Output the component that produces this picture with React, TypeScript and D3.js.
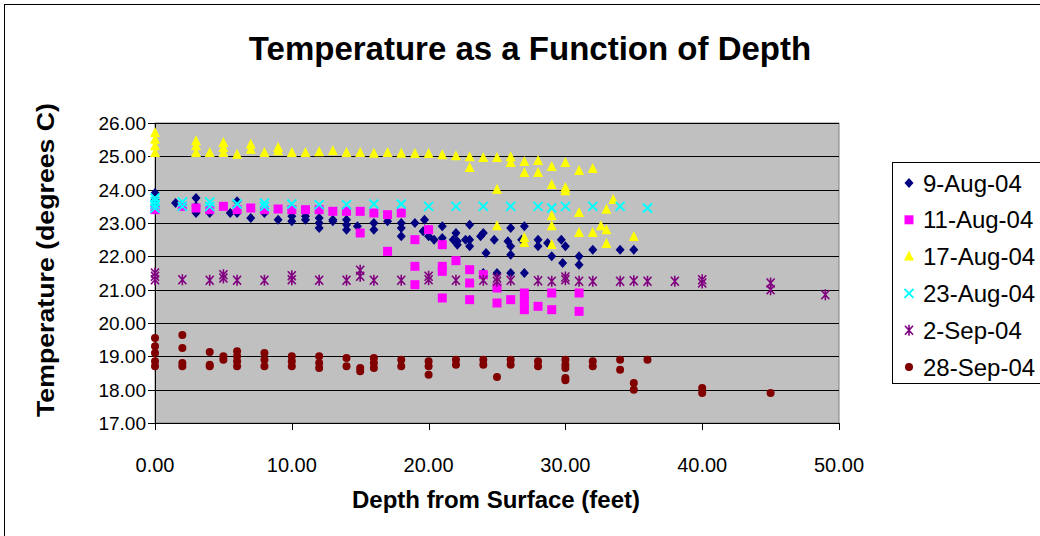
import React from "react";
import * as d3 from "d3";

const xTicks = [0, 10, 20, 30, 40, 50];
const yTicks = [17, 18, 19, 20, 21, 22, 23, 24, 25, 26];
const seriesNames = ["9-Aug-04", "11-Aug-04", "17-Aug-04", "23-Aug-04", "2-Sep-04", "28-Sep-04"];

const aug09: [number, number][] = [
  [0, 23.9], [0, 23.7], [0, 23.5], [1.5, 23.6], [3, 23.75], [3, 23.3], [3, 23.5], [4, 23.3],
  [6, 23.65], [6, 23.3], [5.5, 23.3], [7, 23.15], [8, 23.3], [9, 23.1], [10, 23.2], [10, 23.05],
  [11, 23.2], [11, 23.1], [12, 23.15], [12, 23.0], [12, 22.85], [13, 23.1], [13, 23.05],
  [14, 23.1], [14, 22.95], [14, 22.8], [14.8, 22.9], [16, 23.0], [16, 22.8], [17, 23.05],
  [18, 23.0], [18, 22.85], [18, 22.6], [19, 23.0], [19.7, 23.1], [19.6, 22.75], [20, 22.6],
  [20.4, 22.5], [21, 22.9], [21, 22.55], [21.8, 22.5], [22, 22.7], [22.1, 22.35], [22.1, 22.45],
  [22.7, 22.5], [23, 22.95], [23, 22.5], [23, 22.3], [23.8, 22.6], [24, 22.7], [24.2, 22.1],
  [24.8, 22.5], [24, 21.5], [25, 21.5], [25.8, 22.45], [26, 22.85], [26, 22.3], [26, 22.05], [26, 21.5],
  [27, 22.9], [26.8, 22.5], [27, 21.5], [28, 22.5], [28, 22.3], [28.7, 22.4], [29, 22.0],
  [29.7, 22.5], [30, 22.3], [29.8, 21.8], [31, 22.0], [31, 21.75], [32, 22.2], [34, 22.2], [35, 22.2],
];

const aug11: [number, number][] = [
  [0, 23.4], [2, 23.5], [3, 23.45], [4, 23.4], [5, 23.5], [6, 23.4], [7, 23.45], [8, 23.4],
  [9, 23.42], [10, 23.4], [11, 23.4], [12, 23.4], [13, 23.35], [14, 23.35], [15, 23.35], [15, 22.7],
  [16, 23.3], [17, 23.25], [17, 22.15], [18, 23.3], [19, 22.5], [19, 21.7], [19, 21.15], [20, 22.8],
  [21, 22.35], [21, 21.7], [21, 21.55], [21, 20.75], [22, 21.87], [23, 21.6], [23, 21.2], [23, 20.7],
  [24, 21.45], [25, 21.05], [25, 20.6], [26, 20.7], [27, 20.9], [27, 20.65], [27, 20.4], [28, 20.5],
  [29, 20.9], [29, 20.4], [31, 20.9], [31, 20.35],
];

const aug17: [number, number][] = [
  [0, 25.1], [0, 25.3], [0, 25.5], [0, 25.7], [3, 25.1], [3, 25.3], [3, 25.45], [4, 25.1],
  [5, 25.1], [5, 25.25], [5, 25.4], [6, 25.05], [7, 25.2], [7, 25.35], [8, 25.1], [9, 25.15],
  [9, 25.25], [10, 25.1], [11, 25.1], [12, 25.12], [13, 25.15], [14, 25.1], [15, 25.1], [16, 25.08],
  [17, 25.1], [18, 25.08], [19, 25.07], [20, 25.07], [21, 25.03], [22, 25.0], [23, 24.97], [23, 24.65],
  [24, 24.95], [25, 24.95], [25, 24.0], [25, 22.9], [26, 24.97], [26, 24.8], [27, 24.83], [27, 24.5],
  [27, 22.55], [27, 22.4], [28, 24.86], [28, 24.5], [29, 24.68], [29, 24.14], [29, 23.2], [29, 22.9],
  [29, 22.34], [30, 24.8], [30, 24.05], [30, 23.95], [31, 24.56], [31, 23.3], [31, 22.7], [32, 24.62],
  [32, 22.7], [32.6, 22.9], [33, 23.4], [33, 22.78], [33, 22.37], [33.5, 23.69], [35, 22.58],
];

const aug23: [number, number][] = [
  [0, 23.45], [0, 23.55], [0, 23.65], [0, 23.75], [2, 23.5], [2, 23.63], [4, 23.5], [4, 23.63],
  [6, 23.57], [8, 23.6], [8, 23.5], [10, 23.57], [12, 23.55], [14, 23.55], [16, 23.57], [18, 23.57],
  [20, 23.5], [22, 23.5], [24, 23.5], [26, 23.5], [28, 23.5], [29, 23.45], [30, 23.5], [32, 23.5],
  [34, 23.5], [36, 23.45],
];

const sep02: [number, number][] = [
  [0, 21.3], [0, 21.4], [0, 21.5], [2, 21.3], [4, 21.28], [5, 21.45], [5, 21.35], [6, 21.28],
  [8, 21.28], [10, 21.3], [10, 21.42], [12, 21.28], [14, 21.28], [15, 21.4], [15, 21.58], [16, 21.28],
  [18, 21.28], [20, 21.3], [20, 21.4], [22, 21.28], [24, 21.28], [25, 21.35], [25, 21.25], [26, 21.28],
  [28, 21.27], [29, 21.25], [30, 21.3], [30, 21.38], [31, 21.25], [32, 21.25], [34, 21.25], [35, 21.27],
  [36, 21.25], [38, 21.25], [40, 21.2], [40, 21.3], [45, 21.0], [45, 21.2], [49, 20.85],
];

const sep28: [number, number][] = [
  [0, 19.55], [0, 19.3], [0, 19.1], [0, 18.85], [0, 18.7], [2, 19.64], [2, 19.25], [2, 18.8], [2, 18.7],
  [4, 19.13], [4, 18.75], [4, 18.7], [5, 19.0], [5, 18.9], [6, 19.15], [6, 19.0], [6, 18.85], [6, 18.7],
  [8, 19.1], [8, 18.9], [8, 18.7], [10, 19.0], [10, 18.85], [10, 18.7], [12, 19.0], [12, 18.8], [12, 18.65],
  [14, 18.95], [14, 18.7], [15, 18.65], [15, 18.55], [16, 18.95], [16, 18.8], [16, 18.65], [18, 18.9],
  [18, 18.7], [20, 18.85], [20, 18.7], [20, 18.45], [22, 18.9], [22, 18.75], [24, 18.9], [24, 18.75],
  [25, 18.38], [26, 18.9], [26, 18.75], [28, 18.85], [28, 18.7], [30, 18.9], [30, 18.75], [30, 18.65],
  [30, 18.35], [30, 18.28], [32, 18.85], [32, 18.7], [34, 18.9], [34, 18.6], [35, 18.2], [35, 18.0],
  [36, 18.9], [40, 18.05], [40, 17.9], [45, 17.9],
];

const allSeries = [aug09, aug11, aug17, aug23, sep02, sep28];
const colors = ["#000080", "#FF00FF", "#FFFF00", "#00FFFF", "#800080", "#800000"];

const FONT = "'Liberation Sans', Arial, sans-serif";

function Marker({ kind, x, y }: { kind: number; x: number; y: number }) {
  const c = colors[kind];
  switch (kind) {
    case 0:
      return <path d={`M${x},${y - 5}L${x + 4.5},${y}L${x},${y + 5}L${x - 4.5},${y}Z`} fill={c} />;
    case 1:
      return <rect x={x - 4.5} y={y - 4.5} width={9} height={9} fill={c} />;
    case 2:
      return <path d={`M${x},${y - 6}L${x + 5},${y + 4}L${x - 5},${y + 4}Z`} fill={c} />;
    case 3:
      return (
        <path d={`M${x - 4.5},${y - 4.5}L${x + 4.5},${y + 4.5}M${x - 4.5},${y + 4.5}L${x + 4.5},${y - 4.5}`}
          stroke={c} strokeWidth={2} fill="none" />
      );
    case 4:
      return (
        <path d={`M${x - 4},${y - 4.5}L${x + 4},${y + 4.5}M${x - 4},${y + 4.5}L${x + 4},${y - 4.5}M${x},${y - 5.5}L${x},${y + 5.5}`}
          stroke={c} strokeWidth={1.6} fill="none" />
      );
    default:
      return <circle cx={x} cy={y} r={4} fill={c} />;
  }
}

export default function App() {
  const left = 155, right = 839, top = 123, bottom = 423;
  const x = d3.scaleLinear().domain([0, 50]).range([left, right]);
  const y = d3.scaleLinear().domain([17, 26]).range([bottom, top]);
  const fmt = d3.format(".2f");

  return (
    <svg width={1040} height={536} style={{ position: "absolute", left: 0, top: 0, background: "#fff" }}
      fontFamily={FONT}>
      <rect x={4.5} y={4.5} width={1100} height={600} fill="#fff" stroke="#000" strokeWidth={1} />
      <text x={530} y={60} textAnchor="middle" fontSize={33} fontWeight="bold">
        Temperature as a Function of Depth
      </text>

      <rect x={left} y={top} width={right - left} height={bottom - top} fill="#C0C0C0" stroke="#808080" strokeWidth={1} />
      {yTicks.map((t) => (
        <line key={"g" + t} x1={left} x2={right} y1={Math.round(y(t)) + 0.5} y2={Math.round(y(t)) + 0.5}
          stroke="#000" strokeWidth={1} />
      ))}
      <line x1={left + 0.5} x2={left + 0.5} y1={top} y2={bottom + 7} stroke="#000" />
      <line x1={left} x2={right} y1={bottom + 0.5} y2={bottom + 0.5} stroke="#000" />
      {yTicks.map((t) => (
        <g key={"yt" + t}>
          <line x1={left - 7} x2={left} y1={Math.round(y(t)) + 0.5} y2={Math.round(y(t)) + 0.5} stroke="#000" />
          <text x={146} y={y(t)} dy="0.36em" textAnchor="end" fontSize={19}>{fmt(t)}</text>
        </g>
      ))}
      {xTicks.map((t) => (
        <g key={"xt" + t}>
          <line x1={Math.round(x(t)) + 0.5} x2={Math.round(x(t)) + 0.5} y1={bottom} y2={bottom + 7} stroke="#000" />
          <text x={x(t)} y={472} textAnchor="middle" fontSize={20}>{fmt(t)}</text>
        </g>
      ))}

      {allSeries.map((s, i) => (
        <g key={"s" + i}>
          {s.map((p, j) => (
            <Marker key={j} kind={i} x={x(p[0])} y={y(p[1])} />
          ))}
        </g>
      ))}

      <text x={496} y={508} textAnchor="middle" fontSize={24} fontWeight="bold">Depth from Surface (feet)</text>
      <text transform="translate(54,260) rotate(-90)" textAnchor="middle" fontSize={24} fontWeight="bold"
        textLength={314} lengthAdjust="spacingAndGlyphs">
        Temperature (degrees C)
      </text>

      <rect x={892.5} y={162.5} width={200} height={221} fill="#fff" stroke="#000" strokeWidth={1} />
      {seriesNames.map((n, i) => {
        const ly = 183 + i * 36.8;
        return (
          <g key={n}>
            <Marker kind={i} x={909} y={ly} />
            <text x={923} y={ly} dy="0.36em" fontSize={24}>{n}</text>
          </g>
        );
      })}
    </svg>
  );
}
